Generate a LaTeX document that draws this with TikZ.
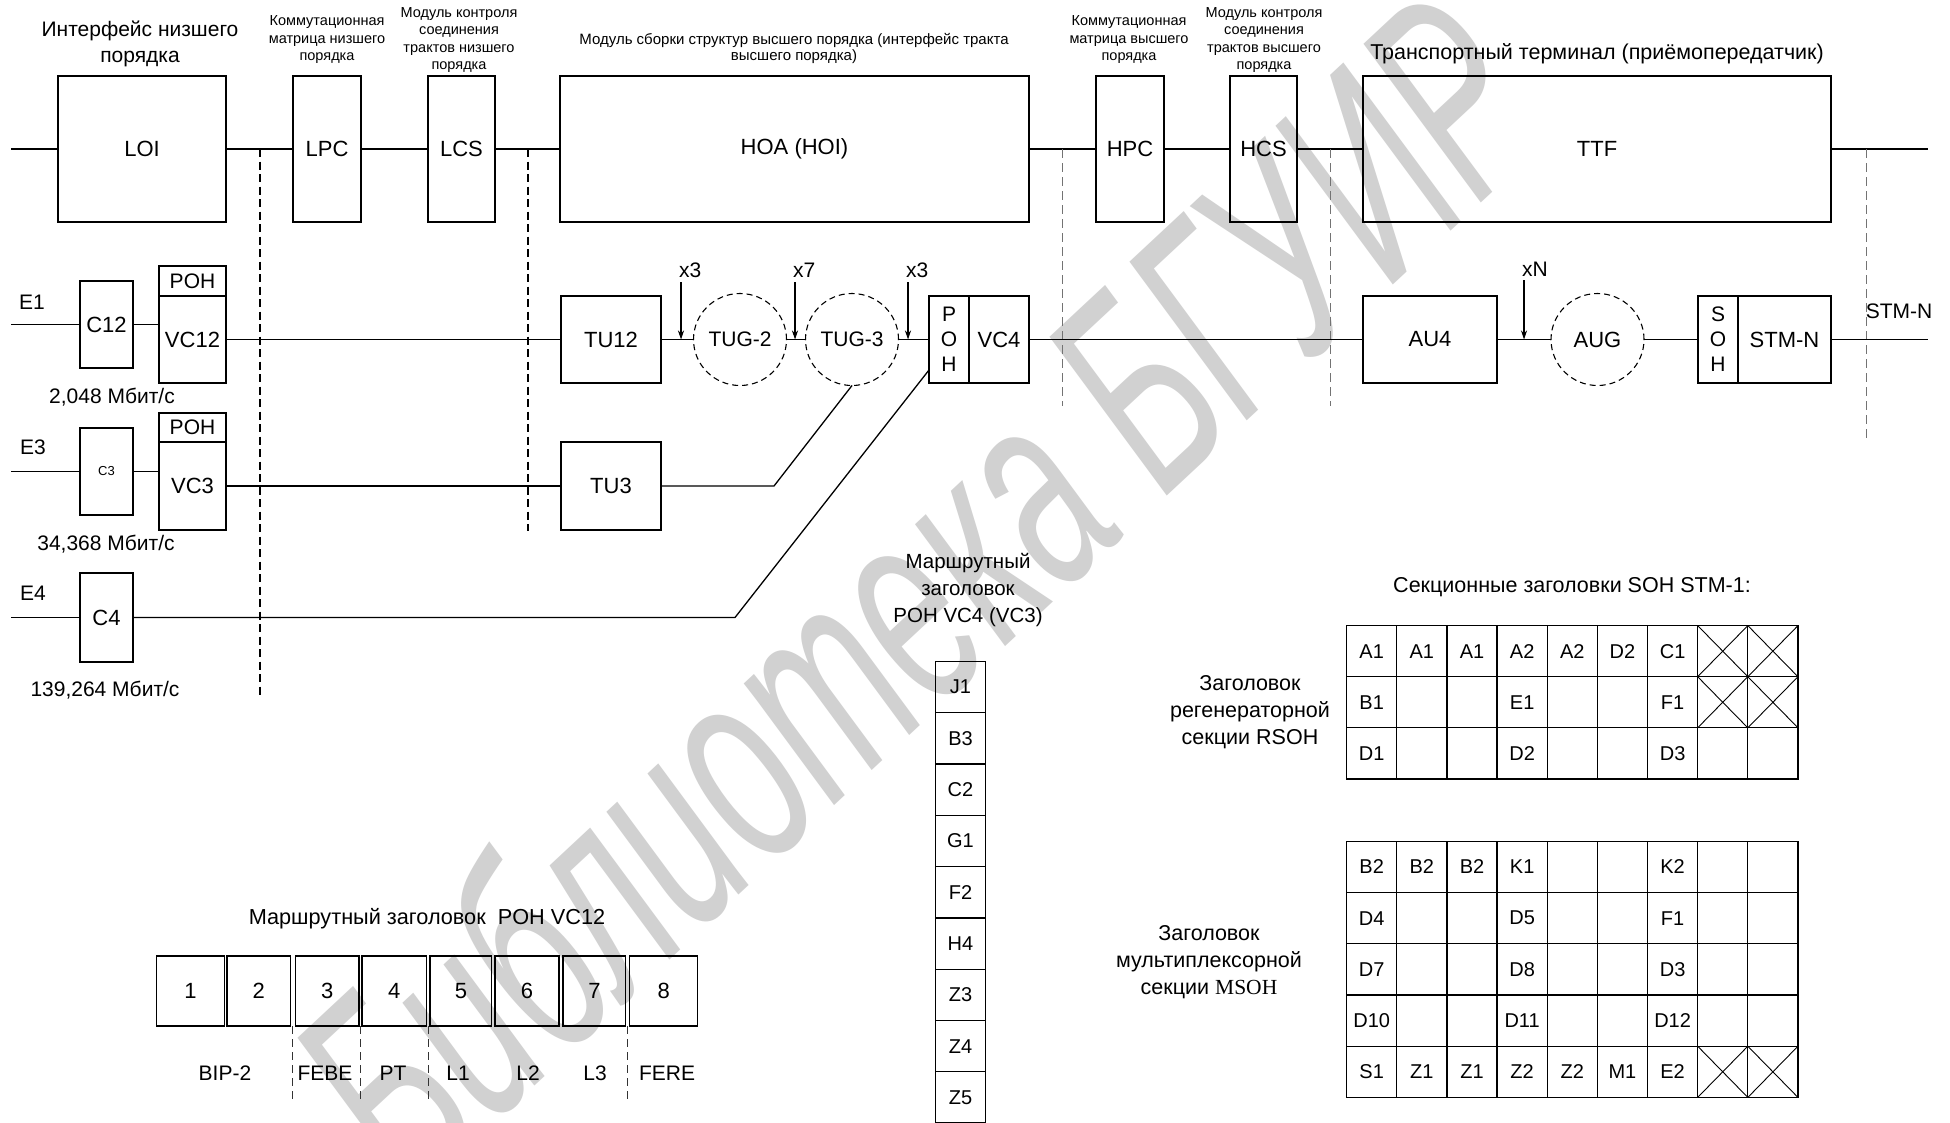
\documentclass[tikz,border=0pt]{standalone}
\usepackage{fontspec}
\setmainfont{Liberation Sans}
\newfontfamily\msohserif{Liberation Serif}
\usetikzlibrary{arrows.meta,shapes.geometric,calc}
\newcommand\fsz[2]{\fontsize{#1}{#2}\selectfont}
\begin{document}
\begin{tikzpicture}[x=1pt,y=-1pt,
  every node/.style={inner sep=0pt, outer sep=0pt},
  ln/.style={line width=1.3pt},
  bx/.style={draw, line width=1.3pt, font=\fsz{22}{26}, align=center},
  lbl/.style={font=\fsz{21}{26}, align=center},
  sml/.style={font=\fsz{14.5}{17.5}, align=center},
  circ/.style={draw, ellipse, dash pattern=on 6pt off 4pt, line width=1.1pt, minimum width=93pt, minimum height=92pt, font=\fsz{21}{26}},
  sepA/.style={line width=1.1pt, dash pattern=on 8pt off 4.5pt},
  sepB/.style={line width=0.9pt, black!55, dash pattern=on 9pt off 5pt},
  sepC/.style={line width=0.9pt, black!80, dash pattern=on 8pt off 5pt},
  arr/.style={line width=1.1pt, -{Stealth[length=9pt,width=6pt]}},
  cell/.style={draw, line width=1.3pt, minimum width=50.15pt, minimum height=51.1pt, font=\fsz{20}{24}},
  xcell/.style={line width=0.9pt},
]
\useasboundingbox (0,0) rectangle (1950,1122);
\fill[white] (0,0) rectangle (1950,1122);
% watermark
\node[text=black!18, rotate=43, font=\fsz{285}{285}\itshape] (wm) at (915,590) {\scalebox{0.59}[1]{Библиотека БГУИР}};

% ---------- top row ----------
\coordinate (tl) at (11,149);
\node[bx, minimum width=168pt, minimum height=146pt] (loi) at (142,149) {LOI};
\node[bx, minimum width=68pt, minimum height=146pt] (lpc) at (327,149) {LPC};
\node[bx, minimum width=67pt, minimum height=146pt] (lcs) at (461.5,149) {LCS};
\node[bx, minimum width=469pt, minimum height=146pt] (hoa) at (794.5,149) {\raisebox{-3.5pt}{HOA (HOI)}};
\node[bx, minimum width=68pt, minimum height=146pt] (hpc) at (1130,149) {HPC};
\node[bx, minimum width=67pt, minimum height=146pt] (hcs) at (1263.5,149) {HCS};
\node[bx, minimum width=468pt, minimum height=146pt] (ttf) at (1597,149) {TTF};
\coordinate (tr) at (1928,149);
\draw[ln] (tl) -- (loi.west) (loi.east) -- (lpc.west) (lpc.east) -- (lcs.west) (lcs.east) -- (hoa.west)
  (hoa.east) -- (hpc.west) (hpc.east) -- (hcs.west) (hcs.east) -- (ttf.west) (ttf.east) -- (tr);

\node[lbl] (t-loi) at (140,44) {Интерфейс низшего\\порядка};
\node[sml] (t-lpc) at (327,40) {Коммутационная\\матрица низшего\\порядка};
\node[sml] (t-lcs) at (459,40) {Модуль контроля\\соединения\\трактов низшего\\порядка};
\node[sml, font=\fsz{15}{16}] (t-hoa) at (794,48) {Модуль сборки структур высшего порядка (интерфейс тракта\\высшего порядка)};
\node[sml] (t-hpc) at (1129,40) {Коммутационная\\матрица высшего\\порядка};
\node[sml] (t-hcs) at (1264,40) {Модуль контроля\\соединения\\трактов высшего\\порядка};
\node[lbl, font=\fsz{21.5}{26}] (t-ttf) at (1597,54) {Транспортный терминал (приёмопередатчик)};

% separators
\coordinate (s1a) at (260,149); \coordinate (s1b) at (260,698);
\coordinate (s2a) at (528,149); \coordinate (s2b) at (528,531);
\coordinate (s3a) at (1062,149); \coordinate (s3b) at (1062,406);
\coordinate (s4a) at (1330,149); \coordinate (s4b) at (1330,406);
\coordinate (s5a) at (1866,149); \coordinate (s5b) at (1866,442);
\draw[sepA] (s1a) -- (s1b);
\draw[sepA] (s2a) -- (s2b);
\draw[sepB] (s3a) -- (s3b);
\draw[sepB] (s4a) -- (s4b);
\draw[sepB] (s5a) -- (s5b);

% ---------- E1 row ----------
\node[lbl] (e1) at (32,302) {E1};
\coordinate (e1in) at (11,324.5);
\node[bx, minimum width=53pt, minimum height=87pt] (c12) at (106.5,324.5) {C12};
\node[bx, minimum width=67pt, minimum height=30pt, font=\fsz{21}{24}] (poh1) at (192.5,281) {POH};
\node[bx, minimum width=67pt, minimum height=87pt] (vc12) at (192.5,339.5) {VC12};
\node[bx, minimum width=100pt, minimum height=87pt] (tu12) at (611,339.5) {TU12};
\node[circ] (tug2) at (740,339.5) {TUG-2};
\node[circ] (tug3) at (852,339.5) {TUG-3};
\node[bx, minimum width=40pt, minimum height=87pt, font=\fsz{21}{25}] (poh4) at (949,339.5) {P\\O\\H};
\node[bx, minimum width=60pt, minimum height=87pt] (vc4) at (999,339.5) {VC4};
\node[bx, minimum width=134pt, minimum height=87pt] (au4) at (1430,339.5) {AU4};
\node[circ, font=\fsz{22}{26}] (aug) at (1597.5,339.5) {AUG};
\node[bx, minimum width=40pt, minimum height=87pt, font=\fsz{21}{25}] (soh) at (1718,339.5) {S\\O\\H};
\node[bx, minimum width=93pt, minimum height=87pt] (stmn) at (1784.5,339.5) {STM-N};
\coordinate (out) at (1928,339.5);
\node[lbl] (stmlbl) at (1899,311) {STM-N};
\draw[ln] (e1in) -- (c12.west);
\draw[ln] (c12.east) -- (c12.east -| vc12.west);
\draw[ln] (vc12.east) -- (tu12.west);
\draw[ln] (tu12.east) -- (tug2.west);
\draw[ln] (tug2.east) -- (tug3.west);
\draw[ln] (tug3.east) -- (poh4.west);
\draw[ln] (vc4.east) -- (au4.west);
\draw[ln] (au4.east) -- (aug.west);
\draw[ln] (aug.east) -- (soh.west);
\draw[ln] (stmn.east) -- (out);

% multiplexing arrows
\coordinate (ax1) at (681,282);
\coordinate (ax2) at (795,282);
\coordinate (ax3) at (908,282);
\coordinate (ax4) at (1524,280);
\draw[arr] (ax1) -- (ax1 |- tu12.east);
\draw[arr] (ax2) -- (ax2 |- tu12.east);
\draw[arr] (ax3) -- (ax3 |- tu12.east);
\draw[arr] (ax4) -- (ax4 |- au4.east);
\node[lbl, anchor=base west] (lx1) at (679,277) {x3};
\node[lbl, anchor=base west] (lx2) at (793,277) {x7};
\node[lbl, anchor=base west] (lx3) at (906,277) {x3};
\node[lbl, anchor=base west] (lx4) at (1522,276) {xN};

\node[lbl] (r1) at (112,397) {2,048 Мбит/с};

% ---------- E3 row ----------
\node[lbl] (e3) at (33,447) {E3};
\coordinate (e3in) at (11,471.5);
\node[bx, minimum width=53pt, minimum height=87pt, font=\fsz{13}{15}] (c3) at (106.5,471.5) {C3};
\node[bx, minimum width=67pt, minimum height=29pt, font=\fsz{21}{24}] (poh3) at (192.5,427.5) {POH};
\node[bx, minimum width=67pt, minimum height=88pt] (vc3) at (192.5,486) {VC3};
\node[bx, minimum width=100pt, minimum height=88pt] (tu3) at (611,486) {TU3};
\coordinate (k3) at (774,486);
\draw[ln] (e3in) -- (c3.west);
\draw[ln] (c3.east) -- (c3.east -| vc3.west);
\draw[ln] (vc3.east) -- (tu3.west);
\draw[ln] (tu3.east) -- (k3) -- (tug3.south);
\node[lbl] (r3) at (106,544) {34,368 Мбит/с};

% ---------- E4 row ----------
\node[lbl] (e4) at (33,593) {E4};
\coordinate (e4in) at (11,617.5);
\node[bx, minimum width=53pt, minimum height=89pt] (c4) at (106.5,617.5) {C4};
\coordinate (k4) at (735,617.5);
\coordinate (p4in) at (929,370);
\draw[ln] (e4in) -- (c4.west);
\draw[ln] (c4.east) -- (k4) -- (p4in);
\node[lbl] (r4) at (105,690) {139,264 Мбит/с};

% ---------- POH VC12 ----------
\node[lbl, font=\fsz{21.7}{26}] (h12) at (427,919) {Маршрутный заголовок\ \ POH VC12};
\foreach \l/\r [count=\i] in {156.8/224.4, 226.9/290.7, 295.3/359.1, 362/426.7, 430/491.8, 495.1/559, 563.1/625.7, 629.8/697.8}{
  \pgfmathsetmacro\w{\r-\l}\pgfmathsetmacro\cx{(\l+\r)/2}
  \node[bx, minimum width=\w pt, minimum height=70pt] (b\i) at (\cx,991) {\i};
}
\foreach \x [count=\k] in {292.8,360.4,428.2,627.7}{
  \coordinate (da\k) at (\x,1026); \coordinate (db\k) at (\x,1100);
  \draw[sepC] (da\k) -- (db\k);
}
\node[lbl] (lb1) at (225,1073) {BIP-2};
\node[lbl] (lb2) at (325,1073) {FEBE};
\node[lbl] (lb3) at (393,1073) {PT};
\node[lbl] (lb4) at (458,1073) {L1};
\node[lbl] (lb5) at (528,1073) {L2};
\node[lbl] (lb6) at (595,1073) {L3};
\node[lbl] (lb7) at (667,1073) {FERE};

% ---------- POH VC4 ----------
\node[lbl, font=\fsz{20.5}{27}] (hvc4) at (968,590) {Маршрутный\\заголовок\\POH VC4 (VC3)};
\foreach \t [count=\k] in {J1,B3,C2,G1,F2,H4,Z3,Z4,Z5}{
  \node[cell, minimum width=49.6pt, minimum height=51.3pt] (p\k) at (960.5,{661.4+51.3*(\k-0.5)}) {\t};
}

% ---------- SOH ----------
\node[lbl, font=\fsz{21.5}{24}] (tsoh) at (1572,587) {Секционные заголовки SOH STM-1:};
\node[lbl, font=\fsz{21.5}{27}] (trs) at (1250,712) {Заголовок\\регенераторной\\секции RSOH};
\node[lbl, font=\fsz{21.5}{27}] (tms) at (1209,962) {Заголовок\\мультиплексорной\\секции {\msohserif MSOH}};

\foreach \t [count=\c] in {A1,A1,A1,A2,A2,D2,C1,{},{}}
  \node[cell] (ra\c) at ({1346.6+50.15*(\c-0.5)},651.15) {\t};
\foreach \t [count=\c] in {B1,{},{},E1,{},{},F1,{},{}}
  \node[cell] (rb\c) at ({1346.6+50.15*(\c-0.5)},702.25) {\t};
\foreach \t [count=\c] in {D1,{},{},D2,{},{},D3,{},{}}
  \node[cell] (rc\c) at ({1346.6+50.15*(\c-0.5)},753.35) {\t};

\foreach \t [count=\c] in {B2,B2,B2,K1,{},{},K2,{},{}}
  \node[cell, minimum height=51.2pt] (ma\c) at ({1346.6+50.15*(\c-0.5)},867) {\t};
\foreach \t [count=\c] in {D4,{},{},D5,{},{},F1,{},{}}
  \node[cell, minimum height=51.2pt] (mb\c) at ({1346.6+50.15*(\c-0.5)},918.2) {\t};
\foreach \t [count=\c] in {D7,{},{},D8,{},{},D3,{},{}}
  \node[cell, minimum height=51.2pt] (mc\c) at ({1346.6+50.15*(\c-0.5)},969.4) {\t};
\foreach \t [count=\c] in {D10,{},{},D11,{},{},D12,{},{}}
  \node[cell, minimum height=51.2pt] (md\c) at ({1346.6+50.15*(\c-0.5)},1020.6) {\t};
\foreach \t [count=\c] in {S1,Z1,Z1,Z2,Z2,M1,E2,{},{}}
  \node[cell, minimum height=51.2pt] (me\c) at ({1346.6+50.15*(\c-0.5)},1071.8) {\t};

\foreach \n in {ra8,ra9,rb8,rb9,me8,me9}
  \draw[xcell] (\n.north west) -- (\n.south east) (\n.north east) -- (\n.south west);
\end{tikzpicture}
\end{document}
